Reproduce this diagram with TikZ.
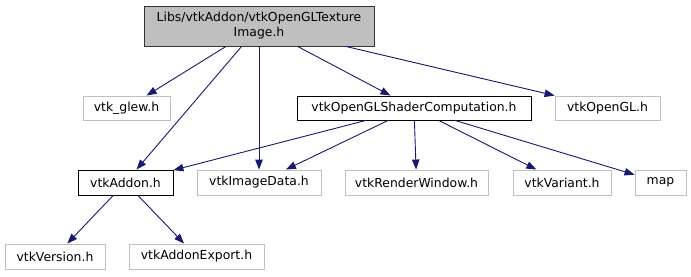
\documentclass[tikz,border=0pt]{standalone}
\usepackage{fontspec}
\setmainfont{DejaVu Sans}
\usepackage{tikz}
\usetikzlibrary{arrows.meta}

\definecolor{edgeblue}{HTML}{191970}
\definecolor{extgray}{HTML}{BFBFBF}

\begin{document}
\begin{tikzpicture}[x=1pt, y=-1pt,
    every node/.style={rectangle,draw,inner sep=0pt,line width=0.9pt,
      font=\fontsize{12.4}{15}\selectfont,text=black},
    hdrbox/.style={fill=extgray,draw=black!80,align=center,minimum height=40pt},
    docbox/.style={draw=black,minimum height=24pt},
    extbox/.style={draw=extgray,minimum height=24pt}]
    \useasboundingbox (0,0) rectangle (691,276);

    % the header itself
    \node[hdrbox,minimum width=230pt] (tex) at (259,26) {Libs/vtkAddon/vtkOpenGLTexture\\Image.h};

    % first row
    \node[extbox,minimum width=87pt]  (glew)   at (126.5,108) {vtk\_glew.h};
    \node[docbox,minimum width=234pt] (shader) at (414,108)   {vtkOpenGLShaderComputation.h};
    \node[extbox,minimum width=105pt] (ogl)    at (607.5,108) {vtkOpenGL.h};

    % second row
    \node[docbox,minimum width=95pt,minimum height=25pt]  (addon)  at (125.5,182.5) {vtkAddon.h};
    \node[extbox,minimum width=124pt,minimum height=25pt] (image)  at (259,182.5)   {vtkImageData.h};
    \node[extbox,minimum width=143pt,minimum height=25pt] (render) at (416.5,182.5) {vtkRenderWindow.h};
    \node[extbox,minimum width=98pt,minimum height=25pt]  (variant) at (562,182.5)  {vtkVariant.h};
    \node[extbox,minimum width=51pt,minimum height=25pt]  (map)    at (660.5,182.5) {map};

    % third row
    \node[extbox,minimum width=100pt,minimum height=25pt] (version) at (55,256.5)   {vtkVersion.h};
    \node[extbox,minimum width=135pt,minimum height=25pt] (export)  at (196.5,256.5) {vtkAddonExport.h};

    % include edges
    \foreach \u/\v in {tex/glew,tex/addon,tex/image,tex/shader,tex/ogl,
                       shader/addon,shader/image,shader/render,shader/variant,shader/map,
                       addon/version,addon/export}{
      \draw[edgeblue,line width=0.9pt,-{Triangle[length=10pt,width=7.5pt]}] (\u) -- (\v);
    }
  \end{tikzpicture}
\end{document}
